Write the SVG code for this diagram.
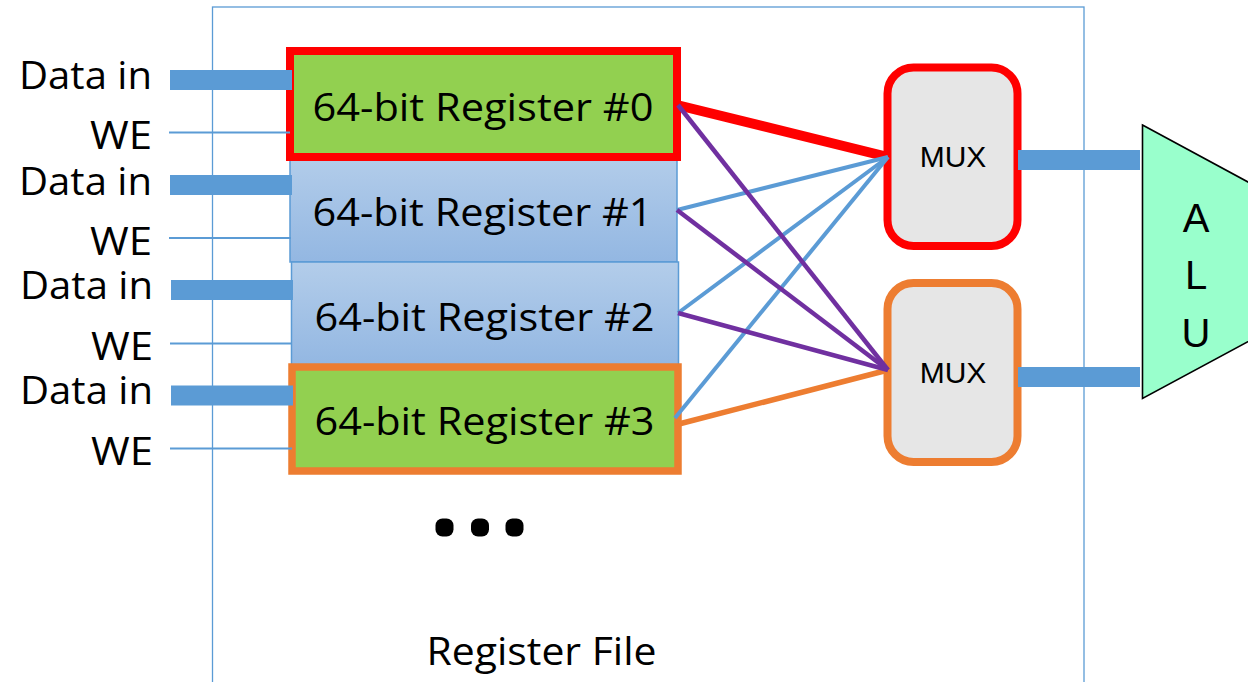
<svg xmlns="http://www.w3.org/2000/svg" width="1248" height="682" viewBox="0 0 1248 682">
<defs>
<linearGradient id="blueFill" x1="0" y1="0" x2="0" y2="1">
<stop offset="0" stop-color="#B3CDEA"/>
<stop offset="1" stop-color="#93B7E2"/>
</linearGradient>
<style>
.lbl{font-family:"Open Sans","Noto Sans","Liberation Sans",sans-serif;font-size:39px;fill:#000}
.ar{font-family:"Liberation Sans",Arial,sans-serif;fill:#000}
.bar{stroke:#5B9BD5;stroke-width:20;fill:none}
.we{stroke:#5B9BD5;stroke-width:2;fill:none}
.blue{stroke:#5B9BD5;stroke-width:4;fill:none}
.purple{stroke:#7030A0;stroke-width:4.5;fill:none}
.mux{fill:#E6E6E6;stroke-width:8}
</style>
</defs>
<rect id="regfile-frame" x="212.5" y="7" width="871.5" height="720" fill="none" stroke="#5B9BD5" stroke-width="1.3"/>
<text class="lbl" x="426.5" y="665" textLength="230" lengthAdjust="spacingAndGlyphs">Register File</text>
<g id="ellipsis" fill="#000">
<rect x="435.5" y="518.5" width="18" height="18" rx="7"/>
<rect x="471" y="518.5" width="18" height="18" rx="7"/>
<rect x="505.5" y="518.5" width="18" height="18" rx="7"/>
</g>
<g id="labels">
<text class="lbl" x="152" y="89" text-anchor="end" textLength="133" lengthAdjust="spacingAndGlyphs">Data in</text>
<text class="lbl" x="152" y="149" text-anchor="end" textLength="62" lengthAdjust="spacingAndGlyphs">WE</text>
<text class="lbl" x="152" y="195" text-anchor="end" textLength="133" lengthAdjust="spacingAndGlyphs">Data in</text>
<text class="lbl" x="152" y="255" text-anchor="end" textLength="62" lengthAdjust="spacingAndGlyphs">WE</text>
<text class="lbl" x="153" y="299" text-anchor="end" textLength="133" lengthAdjust="spacingAndGlyphs">Data in</text>
<text class="lbl" x="153" y="360" text-anchor="end" textLength="62" lengthAdjust="spacingAndGlyphs">WE</text>
<text class="lbl" x="153" y="404" text-anchor="end" textLength="133" lengthAdjust="spacingAndGlyphs">Data in</text>
<text class="lbl" x="153" y="465" text-anchor="end" textLength="62" lengthAdjust="spacingAndGlyphs">WE</text>
</g>
<g id="reg1">
<rect x="290" y="156" width="387" height="106" fill="url(#blueFill)" stroke="#5B9BD5" stroke-width="1.5"/>
<text class="lbl" x="312.5" y="226" textLength="340" lengthAdjust="spacingAndGlyphs">64-bit Register #1</text>
</g>
<g id="reg2">
<rect x="291.5" y="262" width="387" height="103" fill="url(#blueFill)" stroke="#5B9BD5" stroke-width="1.5"/>
<text class="lbl" x="314.5" y="331" textLength="340" lengthAdjust="spacingAndGlyphs">64-bit Register #2</text>
</g>
<g id="reg0">
<rect x="290" y="51" width="387" height="106" fill="#92D050" stroke="#FF0000" stroke-width="8"/>
<text class="lbl" x="312.5" y="120.5" textLength="341" lengthAdjust="spacingAndGlyphs">64-bit Register #0</text>
</g>
<g id="reg3">
<rect x="292" y="367" width="386" height="104" fill="#92D050" stroke="#ED7D31" stroke-width="7.5"/>
<text class="lbl" x="314.5" y="435" textLength="340" lengthAdjust="spacingAndGlyphs">64-bit Register #3</text>
</g>
<g id="mux1">
<rect class="mux" x="887.5" y="67.5" width="130" height="178.5" rx="26" stroke="#FF0000"/>
<text class="ar" x="953" y="167" font-size="30" text-anchor="middle">MUX</text>
</g>
<g id="mux2">
<rect class="mux" x="887.5" y="283" width="130" height="179" rx="26" stroke="#ED7D31"/>
<text class="ar" x="953" y="383" font-size="30" text-anchor="middle">MUX</text>
</g>
<g id="alu">
<polygon points="1142.5,125 1396,262 1142.5,398.5" fill="#99FFCC" stroke="#000" stroke-width="1.6" stroke-linejoin="miter"/>
<text class="ar" x="1196" y="232" font-size="40" text-anchor="middle">A</text>
<text class="ar" x="1196" y="288.5" font-size="40" text-anchor="middle">L</text>
<text class="ar" x="1196" y="347" font-size="40" text-anchor="middle">U</text>
</g>
<g id="connectors">
<line class="bar" x1="170" y1="80" x2="292" y2="80"/>
<line class="bar" x1="170" y1="185" x2="292" y2="185"/>
<line class="bar" x1="171" y1="290" x2="293" y2="290"/>
<line class="bar" x1="171" y1="395.5" x2="293" y2="395.5"/>
<line class="we" x1="169" y1="132.5" x2="290" y2="132.5"/>
<line class="we" x1="169" y1="238" x2="291" y2="238"/>
<line class="we" x1="170" y1="343.5" x2="292" y2="343.5"/>
<line class="we" x1="170" y1="448.5" x2="292" y2="448.5"/>
<line x1="677" y1="105" x2="888" y2="157" stroke="#FF0000" stroke-width="10"/>
<line x1="675" y1="425" x2="888" y2="370" stroke="#ED7D31" stroke-width="5.5"/>
<line class="blue" x1="677" y1="210" x2="888" y2="157"/>
<line class="blue" x1="678" y1="313" x2="888" y2="157"/>
<line class="blue" x1="675" y1="418" x2="888" y2="157"/>
<line class="purple" x1="678" y1="105" x2="888" y2="370"/>
<line class="purple" x1="677" y1="210" x2="888" y2="370"/>
<line class="purple" x1="678" y1="313" x2="888" y2="370"/>
<line class="bar" x1="1018" y1="160" x2="1140" y2="160"/>
<line class="bar" x1="1018" y1="377" x2="1140" y2="377"/>
</g>
</svg>
